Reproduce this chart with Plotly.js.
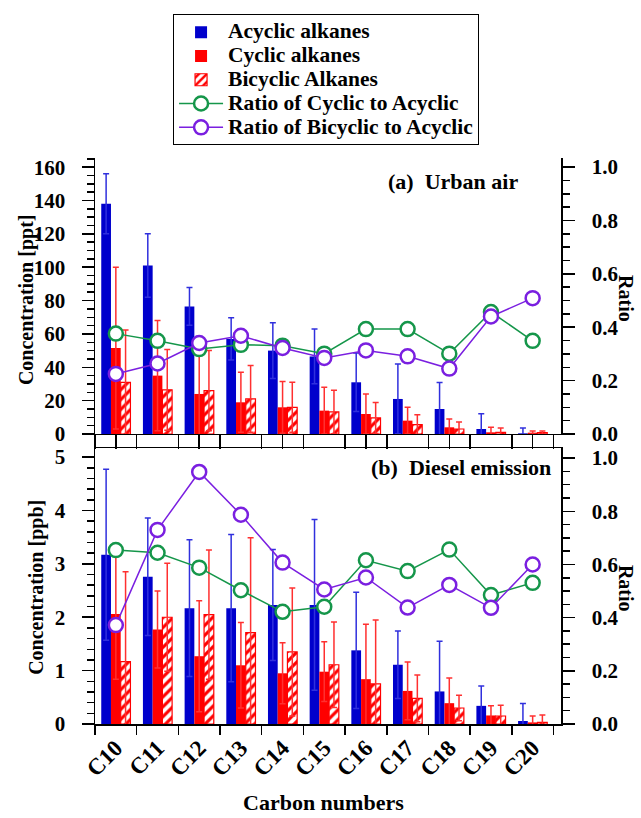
<!DOCTYPE html>
<html><head><meta charset="utf-8">
<script src="https://cdn.plot.ly/plotly-3.0.1.min.js"></script>
<style>html,body{margin:0;padding:0;background:#fff}</style>
</head><body><div id="chart" style="width:641px;height:818px"></div>
<script>
// ---------------- data ----------------
const categories = ['C10','C11','C12','C13','C14','C15','C16','C17','C18','C19','C20'];

// (a) Urban air, ppt
const urbanAcyclic     = [138, 101, 76.5, 57, 50, 46.5, 31, 21, 15, 3, 0.4];
const urbanAcyclicErr  = [18, 19, 11.3, 12.7, 16.7, 16.4, 17.5, 20.9, 15.9, 9.2, 3.2];
const urbanCyclic      = [51.5, 35, 24, 19, 16, 14, 12, 8, 4, 1, 0.8];
const urbanCyclicErr   = [48.5, 33, 26, 18, 15.5, 14, 12, 8, 5, 3, 1];
const urbanBicyclic    = [31, 26.5, 26, 21, 16, 13.2, 9.6, 5.6, 3, 1, 0.8];
const urbanBicyclicErr = [31.3, 24.2, 24, 20, 15, 13, 9.3, 6, 4.2, 2.6, 1];
const urbanRatioCyc    = [0.376, 0.349, 0.318, 0.334, 0.331, 0.301, 0.393, 0.393, 0.301, 0.457, 0.349];
const urbanRatioBicyc  = [0.225, 0.264, 0.341, 0.368, 0.322, 0.285, 0.313, 0.291, 0.245, 0.440, 0.509];

// (b) Diesel emission, ppb
const dieselAcyclic     = [3.17, 2.76, 2.17, 2.17, 2.23, 2.23, 1.38, 1.11, 0.61, 0.34, 0.056];
const dieselAcyclicErr  = [1.60, 1.10, 1.28, 1.38, 1.04, 1.60, 1.09, 0.63, 0.94, 0.37, 0.33];
const dieselCyclic      = [2.06, 1.77, 1.27, 1.10, 0.95, 0.98, 0.84, 0.62, 0.39, 0.16, 0.03];
const dieselCyclicErr   = [1.22, 0.72, 1.04, 0.80, 0.57, 0.56, 1.03, 0.54, 0.47, 0.18, 0.12];
const dieselBicyclic    = [1.17, 2.00, 2.05, 1.71, 1.35, 1.11, 0.75, 0.48, 0.30, 0.15, 0.03];
const dieselBicyclicErr = [1.68, 1.01, 1.21, 1.78, 1.20, 0.80, 1.20, 0.44, 0.24, 0.20, 0.14];
const dieselRatioCyc    = [0.654, 0.644, 0.588, 0.503, 0.422, 0.441, 0.616, 0.575, 0.656, 0.485, 0.531];
const dieselRatioBicyc  = [0.372, 0.730, 0.948, 0.787, 0.607, 0.506, 0.551, 0.438, 0.523, 0.437, 0.600];

const seriesNames = ['Acyclic alkanes','Cyclic alkanes','Bicyclic Alkanes',
                     'Ratio of Cyclic to Acyclic','Ratio of Bicyclic to Acyclic'];

// ---------------- styling ----------------
const xIdx = categories.map((c, i) => i);
const evenIdx = xIdx.filter(i => i % 2 === 0);
const FAM = '"Liberation Serif", "Times New Roman", serif';
const fnt = s => ({family: FAM, size: s, color: '#000', weight: 'bold'});
const BLUE = '#0000cc', BLUE_ERR = '#3030dd', RED = '#ff0000', RED_ERR = '#ff3030';
const GREEN = '#15964a', PURPLE = '#7a1fe0';
const legName = n => '<span style="font-size:21.5px">' + n + '</span>';

function barTrace(y, err, kind, xa, ya, show) {
  const t = {type: 'bar', x: xIdx, y: y, xaxis: xa, yaxis: ya,
    name: legName(seriesNames[kind]), showlegend: show,
    error_y: {type: 'data', array: err, visible: true, thickness: 1.5, width: 3,
              color: kind === 0 ? BLUE_ERR : RED_ERR}, hoverinfo: 'skip'};
  if (kind === 0) t.marker = {color: BLUE, line: {width: 0}};
  else if (kind === 1) t.marker = {color: RED, line: {width: 0}};
  else t.marker = {color: '#ffffff', line: {color: RED, width: 1.2},
        pattern: {shape: '/', fgcolor: RED, bgcolor: '#ffffff', size: 7, solidity: 0.45, fillmode: 'replace'}};
  return t;
}
function ratioTrace(y, kind, xa, ya, show) {
  const c = kind === 3 ? GREEN : PURPLE;
  return {type: 'scatter', mode: 'lines+markers', x: xIdx, y: y, xaxis: xa, yaxis: ya,
    name: legName(seriesNames[kind]), showlegend: show, cliponaxis: false,
    line: {color: c, width: 1.5},
    marker: {symbol: 'circle', size: 14, color: '#ffffff', line: {color: c, width: 2.5}}, hoverinfo: 'skip'};
}

const data = [
  barTrace(dieselAcyclic, dieselAcyclicErr, 0, 'x', 'y', true),
  barTrace(dieselCyclic, dieselCyclicErr, 1, 'x', 'y', true),
  barTrace(dieselBicyclic, dieselBicyclicErr, 2, 'x', 'y', true),
  ratioTrace(dieselRatioCyc, 3, 'x', 'y2', true),
  ratioTrace(dieselRatioBicyc, 4, 'x', 'y2', true),
  barTrace(urbanAcyclic, urbanAcyclicErr, 0, 'x2', 'y3', false),
  barTrace(urbanCyclic, urbanCyclicErr, 1, 'x2', 'y3', false),
  barTrace(urbanBicyclic, urbanBicyclicErr, 2, 'x2', 'y3', false),
  ratioTrace(urbanRatioCyc, 3, 'x2', 'y4', false),
  ratioTrace(urbanRatioBicyc, 4, 'x2', 'y4', false)
];

const XR = [-0.5, 10.68];
const base = {showline: true, linecolor: '#000', linewidth: 1.5, zeroline: false, showgrid: false,
              ticks: 'outside', tickcolor: '#000', tickwidth: 1.5, fixedrange: true};
const minorY = d => ({dtick: d, ticks: 'outside', ticklen: 7, tickwidth: 1.5, tickcolor: '#000', showgrid: false});
const minorX = len => ({tickmode: 'linear', tick0: -0.5, dtick: 1, ticks: 'outside', ticklen: len, tickwidth: 1.5, tickcolor: '#000', showgrid: false});

const layout = {
  width: 641, height: 818,
  margin: {l: 95, r: 80, t: 158, b: 94},
  paper_bgcolor: '#fff', plot_bgcolor: 'rgba(0,0,0,0)',
  barmode: 'group', bargap: 0.3, bargroupgap: 0,
  showlegend: true,
  legend: {x: 0.1675, y: 1.254, xanchor: 'left', yanchor: 'top', bordercolor: '#000', borderwidth: 1,
           bgcolor: '#fff', font: fnt(16), tracegroupgap: 0, itemwidth: 44},
  xaxis: Object.assign({}, base, {domain: [0, 1], anchor: 'y', range: XR, tickmode: 'array',
    tickvals: xIdx, ticktext: categories, tickangle: -45, ticklen: 0, tickfont: fnt(23),
    mirror: true, minor: minorX(9)}),
  xaxis2: Object.assign({}, base, {domain: [0, 1], anchor: 'y3', range: XR, tickmode: 'array',
    tickvals: evenIdx, showticklabels: false, ticklen: 14, minor: minorX(14)}),
  xaxis3: Object.assign({}, base, {overlaying: 'x2', anchor: 'y3', side: 'top', range: XR, tickmode: 'array',
    tickvals: evenIdx, showticklabels: false, ticklen: 12}),
  yaxis: Object.assign({}, base, {domain: [0, 0.4876], anchor: 'x', range: [0, 5.17], dtick: 1,
    ticklen: 12, tickfont: fnt(21), ticklabelstandoff: 12, minor: minorY(0.2)}),
  yaxis2: Object.assign({}, base, {overlaying: 'y', anchor: 'x', side: 'right', range: [0, 1.038],
    dtick: 0.2, tickformat: '.1f', ticklen: 12, tickfont: fnt(21), ticklabelstandoff: 13, minor: minorY(0.05)}),
  yaxis3: Object.assign({}, base, {domain: [0.5124, 1], anchor: 'x2', range: [0, 165.5], dtick: 20,
    ticklen: 12, tickfont: fnt(21), ticklabelstandoff: 12, minor: minorY(5)}),
  yaxis4: Object.assign({}, base, {overlaying: 'y3', anchor: 'x2', side: 'right', range: [0, 1.034],
    dtick: 0.2, tickformat: '.1f', ticklen: 12, tickfont: fnt(21), ticklabelstandoff: 13, minor: minorY(0.05)}),
  annotations: [
    {text: '(a)\u00a0 Urban air', xref: 'paper', yref: 'paper', x: 0.912, y: 0.9576, xanchor: 'right', yanchor: 'middle', showarrow: false, font: fnt(22)},
    {text: '(b)\u00a0 Diesel emission', xref: 'paper', yref: 'paper', x: 0.983, y: 0.454, xanchor: 'right', yanchor: 'middle', showarrow: false, font: fnt(22)},
    {text: 'Concentration [ppt]', xref: 'paper', yref: 'paper', x: -0.148, y: 0.749, textangle: -90, xanchor: 'center', yanchor: 'middle', showarrow: false, font: fnt(20)},
    {text: 'Concentration [ppb]', xref: 'paper', yref: 'paper', x: -0.127, y: 0.242, textangle: -90, xanchor: 'center', yanchor: 'middle', showarrow: false, font: fnt(20)},
    {text: 'Ratio', xref: 'paper', yref: 'paper', x: 1.138, y: 0.752, textangle: 90, xanchor: 'center', yanchor: 'middle', showarrow: false, font: fnt(20)},
    {text: 'Ratio', xref: 'paper', yref: 'paper', x: 1.14, y: 0.24, textangle: 90, xanchor: 'center', yanchor: 'middle', showarrow: false, font: fnt(20)},
    {text: 'Carbon numbers', xref: 'paper', yref: 'paper', x: 0.4914, y: -0.138, xanchor: 'center', yanchor: 'middle', showarrow: false, font: fnt(22)}
  ]
};

Plotly.newPlot('chart', data, layout, {displayModeBar: false, staticPlot: true});
</script>
</body></html>
